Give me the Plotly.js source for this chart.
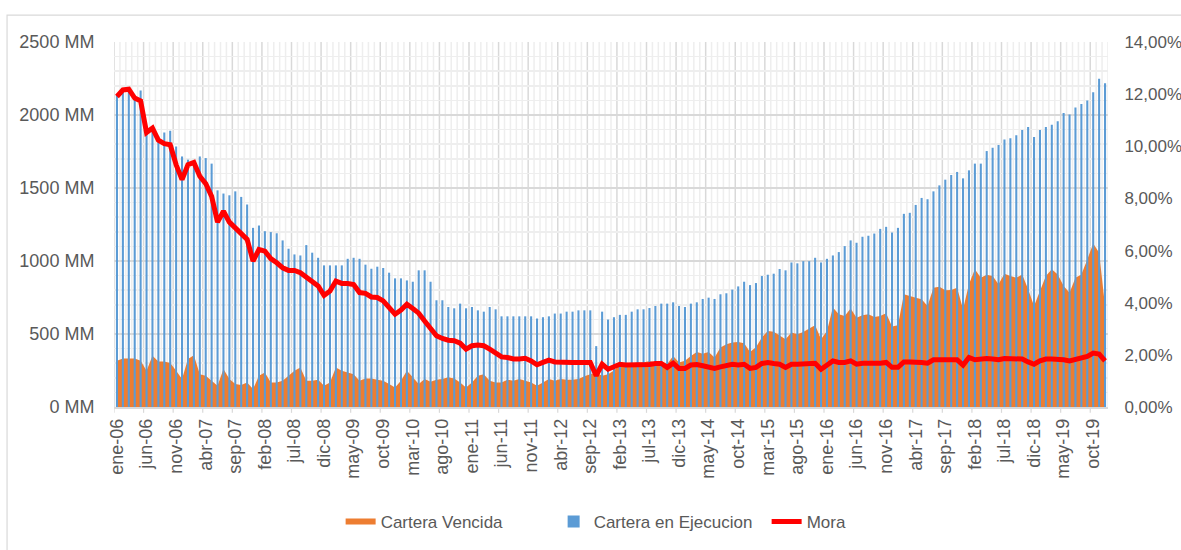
<!DOCTYPE html>
<html>
<head>
<meta charset="utf-8">
<script src="https://cdn.plot.ly/plotly-3.0.1.min.js"></script>
<style>
  html, body { margin: 0; padding: 0; background: #ffffff; }
  #chart { width: 1181px; height: 550px; }
</style>
</head>
<body>
<div id="chart"></div>
<script>
// ---- Data ----
const monthNames = ['ene','feb','mar','abr','may','jun','jul','ago','sep','oct','nov','dic'];
const years = ['06','07','08','09','10','11','12','13','14','15','16','17','18','19'];
const months = years.flatMap(y => monthNames.map(m => m + '-' + y));

const tickLabels = ['ene-06','jun-06','nov-06','abr-07','sep-07','feb-08','jul-08','dic-08','may-09','oct-09',
  'mar-10','ago-10','ene-11','jun-11','nov-11','abr-12','sep-12','feb-13','jul-13','dic-13',
  'may-14','oct-14','mar-15','ago-15','ene-16','jun-16','nov-16','abr-17','sep-17','feb-18',
  'jul-18','dic-18','may-19','oct-19'];

// Cartera en Ejecucion (MM)
const carteraEjecucion = [
  2138,2183,2172,2126,2167,1899,1912,1853,1880,1892,1785,1716,
  1694,1682,1716,1705,1667,1484,1462,1450,1477,1439,1387,1227,
  1243,1204,1198,1190,1141,1084,1045,1038,1109,1057,1022,970,
  970,970,970,1015,1022,1015,975,947,961,952,920,881,
  881,867,858,936,936,858,731,731,685,676,708,676,
  685,662,653,685,669,621,621,621,621,621,621,606,
  615,621,640,640,653,653,662,662,662,417,653,599,
  615,631,631,653,669,669,678,692,708,708,717,692,
  685,708,717,740,749,740,772,779,804,826,858,835,
  849,897,906,913,945,936,990,984,999,999,1022,990,
  1015,1038,1061,1102,1141,1125,1166,1173,1188,1220,1234,1195,
  1227,1323,1330,1384,1432,1423,1477,1518,1557,1589,1610,1566,
  1621,1667,1667,1753,1776,1794,1833,1840,1862,1897,1917,1849,
  1897,1917,1933,1958,2013,2004,2051,2076,2099,2156,2249,2218
];

// Cartera Vencida (MM)
const carteraVencida = [
  316,332,332,332,316,248,351,312,312,301,248,191,
  328,355,225,214,180,146,260,191,157,150,168,123,
  214,237,168,168,180,214,248,271,180,180,187,146,
  168,271,248,237,225,180,196,196,187,180,157,134,
  180,248,203,157,191,173,187,191,203,196,168,134,
  168,214,225,180,168,168,187,180,191,180,168,146,
  168,191,180,191,187,187,191,210,225,237,214,225,
  250,290,300,300,305,305,315,305,310,294,350,305,
  317,350,376,364,376,339,408,430,442,446,437,376,
  410,476,521,515,490,464,510,499,514,537,560,464,
  521,681,635,624,674,612,628,635,617,624,642,551,
  560,772,760,749,738,692,817,824,800,801,817,669,
  840,943,886,906,897,840,913,897,886,908,806,692,
  795,897,943,908,829,783,886,908,1011,1120,1057,692
];

// Mora (fraction)
const mora = [
  0.1191,0.1216,0.1219,0.1185,0.1174,0.1053,0.1070,0.1023,0.1010,0.1006,0.0929,0.0872,
  0.0929,0.0938,0.0885,0.0857,0.0808,0.0709,0.0751,0.0709,0.0687,0.0662,0.0643,0.0560,
  0.0604,0.0598,0.0569,0.0553,0.0534,0.0524,0.0524,0.0515,0.0496,0.0477,0.0464,0.0428,
  0.0445,0.0483,0.0474,0.0474,0.0470,0.0439,0.0436,0.0422,0.0420,0.0407,0.0384,0.0356,
  0.0372,0.0394,0.0378,0.0360,0.0330,0.0298,0.0273,0.0263,0.0256,0.0254,0.0245,0.0222,
  0.0235,0.0238,0.0235,0.0222,0.0205,0.0192,0.0190,0.0184,0.0184,0.0187,0.0177,0.0162,
  0.0171,0.0180,0.0173,0.0171,0.0171,0.0171,0.0171,0.0171,0.0171,0.0120,0.0164,0.0145,
  0.0156,0.0164,0.0161,0.0161,0.0161,0.0161,0.0163,0.0167,0.0167,0.0152,0.0168,0.0148,
  0.0148,0.0161,0.0163,0.0158,0.0152,0.0148,0.0154,0.0161,0.0164,0.0161,0.0164,0.0148,
  0.0152,0.0167,0.0171,0.0167,0.0164,0.0152,0.0164,0.0164,0.0164,0.0164,0.0168,0.0145,
  0.0164,0.0177,0.0171,0.0171,0.0177,0.0164,0.0168,0.0168,0.0164,0.0168,0.0171,0.0152,
  0.0152,0.0173,0.0173,0.0173,0.0171,0.0168,0.0181,0.0181,0.0181,0.0181,0.0181,0.0161,
  0.0190,0.0181,0.0184,0.0186,0.0184,0.0181,0.0186,0.0186,0.0186,0.0184,0.0173,0.0164,
  0.0177,0.0184,0.0184,0.0184,0.0181,0.0177,0.0184,0.0186,0.0194,0.0207,0.0203,0.0177
];

const leftTicks = [0, 500, 1000, 1500, 2000, 2500];
const leftTickText = ['0 MM', '500 MM', '1000 MM', '1500 MM', '2000 MM', '2500 MM'];
const rightTicks = [0, 0.02, 0.04, 0.06, 0.08, 0.10, 0.12, 0.14];
const rightTickText = ['0,00%', '2,00%', '4,00%', '6,00%', '8,00%', '10,00%', '12,00%', '14,00%'];

// ---- Styles ----
const FONT = '"Liberation Sans", Arial, sans-serif';
const TXT = '#595959';
const GRID_MAJOR = '#d9d9d9';
const GRID_MINOR = '#eeeeee';

const traces = [
  {
    name: 'Cartera Vencida',
    type: 'scatter',
    x: months,
    y: carteraVencida,
    mode: 'none',
    fill: 'tozeroy',
    fillcolor: '#ED7D31',
    xaxis: 'x', yaxis: 'y'
  },
  {
    name: 'Cartera en Ejecucion',
    type: 'bar',
    x: months,
    y: carteraEjecucion,
    width: 0.35,
    marker: { color: '#5B9BD5', line: { width: 0 } },
    xaxis: 'x', yaxis: 'y2'
  },
  {
    name: 'Mora',
    type: 'scatter',
    mode: 'lines',
    x: months,
    y: mora,
    line: { color: '#FF0000', width: 5 },
    xaxis: 'x', yaxis: 'y3'
  }
];

// vertical gridlines at category boundaries (minor each month, major every 5)
const shapes = [];
for (let k = 0; k <= months.length; k++) {
  const major = (k % 5 === 0);
  shapes.push({
    type: 'line', layer: 'between', xref: 'x', yref: 'paper',
    x0: k - 0.5, x1: k - 0.5, y0: 0, y1: 1,
    line: { color: major ? GRID_MAJOR : GRID_MINOR, width: 1.5 }
  });
  if (major) {
    shapes.push({
      type: 'line', layer: 'above', xref: 'x', yref: 'paper',
      x0: k - 0.5, x1: k - 0.5, y0: 0, y1: -0.016,
      line: { color: GRID_MAJOR, width: 1.2 }
    });
  }
}
// outer chart frame (partially visible in the crop)
shapes.push({
  type: 'rect', layer: 'above', xref: 'paper', yref: 'paper',
  x0: -0.1076, x1: 1.3, y0: -0.7, y1: 1.0738,
  line: { color: '#d9d9d9', width: 1.2 }, fillcolor: 'rgba(0,0,0,0)'
});

const layout = {
  width: 1181, height: 550,
  margin: { l: 114, r: 73, t: 42, b: 142 },
  paper_bgcolor: '#ffffff', plot_bgcolor: '#ffffff',
  separators: ',.',
  font: { family: FONT, color: TXT, size: 17 },
  showlegend: true,
  legend: {
    orientation: 'h', x: 0.228, xanchor: 'left', y: -0.311, yanchor: 'middle',
    entrywidth: 168, entrywidthmode: 'pixels',
    font: { family: FONT, size: 17, color: TXT }, traceorder: 'normal'
  },
  xaxis: {
    type: 'category', range: [-0.5, months.length - 0.5],
    tickmode: 'array', tickvals: tickLabels, ticktext: tickLabels,
    tickangle: -90, tickfont: { family: FONT, size: 18, color: TXT },
    showgrid: false, zeroline: false,
    showline: true, linecolor: GRID_MAJOR, linewidth: 1.5,
    ticks: 'outside', ticklen: 3, tickcolor: 'rgba(0,0,0,0)'
  },
  yaxis: {
    range: [0, 2500], tickmode: 'array', tickvals: leftTicks, ticktext: leftTickText,
    tickfont: { family: FONT, size: 18, color: TXT },
    showgrid: true, gridcolor: GRID_MAJOR, gridwidth: 1.2,
    minor: { dtick: 100, showgrid: true, gridcolor: GRID_MINOR, gridwidth: 1.5 },
    zeroline: false, showline: false,
    ticks: 'outside', ticklen: 15, tickcolor: 'rgba(0,0,0,0)'
  },
  yaxis2: {
    overlaying: 'y', range: [0, 2500], visible: false, showgrid: false
  },
  yaxis3: {
    overlaying: 'y', side: 'right', range: [0, 0.14],
    tickmode: 'array', tickvals: rightTicks, ticktext: rightTickText,
    tickfont: { family: FONT, size: 17, color: TXT },
    showgrid: false, zeroline: false, showline: false,
    ticks: 'outside', ticklen: 12, tickcolor: 'rgba(0,0,0,0)'
  },
  shapes: shapes
};

Plotly.newPlot('chart', traces, layout, { displayModeBar: false, staticPlot: true });
</script>
</body>
</html>
